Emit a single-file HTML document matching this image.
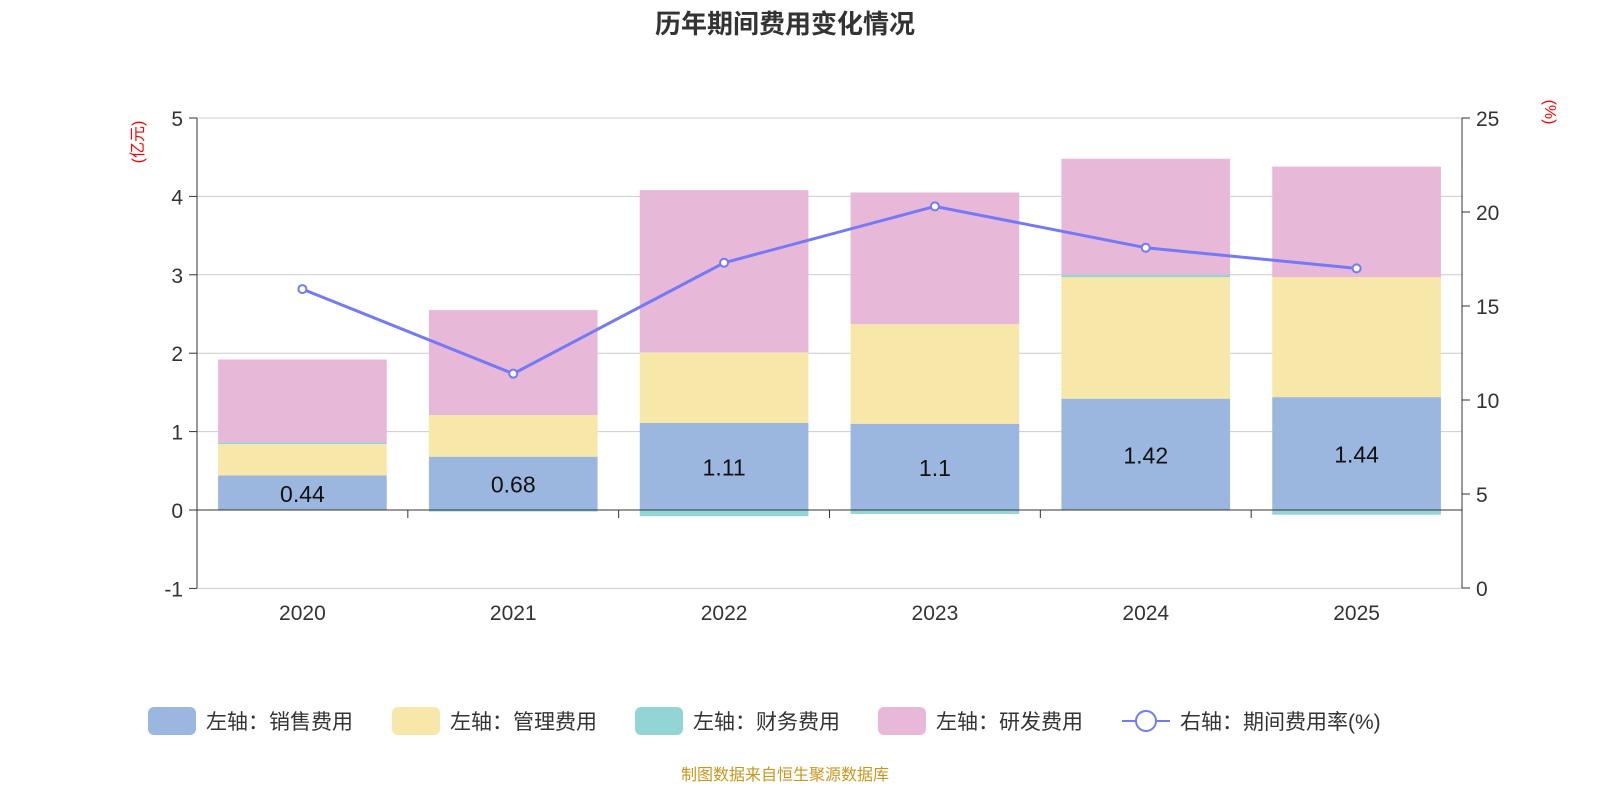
<!DOCTYPE html>
<html><head><meta charset="utf-8"><style>
body{margin:0;background:#fff;width:1600px;height:800px;overflow:hidden;font-family:"Liberation Sans","Noto Sans CJK SC",sans-serif}
</style></head><body>
<svg id="c" width="1600" height="800" xmlns="http://www.w3.org/2000/svg"></svg>
<script>
const categories=["2020","2021","2022","2023","2024","2025"];
const sales=[0.44,0.68,1.11,1.1,1.42,1.44];
const mgmt=[0.40,0.53,0.90,1.27,1.55,1.53];
const finance=[0.02,-0.02,-0.08,-0.05,0.03,-0.06];
const rnd=[1.06,1.34,2.07,1.68,1.48,1.41];
const rate=[15.9,11.4,17.3,20.3,18.1,17.0];
const leftTicks=[-1,0,1,2,3,4,5];
const rightTicks=[0,5,10,15,20,25];
const svg=document.getElementById('c');const NS="http://www.w3.org/2000/svg";
function el(t,a,txt){const e=document.createElementNS(NS,t);for(const k in a)e.setAttribute(k,a[k]);if(txt!=null)e.textContent=txt;svg.appendChild(e);return e;}
const X0=197,X1=1462,yL=v=>510-v*78.4,yR=v=>588-v*18.8;
const bw=(X1-X0)/categories.length;const xc=i=>X0+bw*(i+0.5);
let t=el('text',{x:785,y:33,'text-anchor':'middle','font-size':26,'font-weight':'bold',fill:'#333'},'历年期间费用变化情况');

leftTicks.forEach(v=>{const y=yL(v);
 if(v!==0){const g=el('line',{x1:X0,x2:X1,y1:y,y2:y,stroke:'#ccc'});}
 el('line',{x1:X0-8,x2:X0,y1:y,y2:y,stroke:'#333'});
 const l=el('text',{x:X0-14,y:y+8,'text-anchor':'end','font-size':21,fill:'#333'},v);});
rightTicks.forEach(v=>{const y=yR(v);el('line',{x1:X1,x2:X1+8,y1:y,y2:y,stroke:'#333'});
 const l=el('text',{x:X1+14,y:y+8,'font-size':21,fill:'#333'},v);});
el('line',{x1:X0,x2:X0,y1:118,y2:588,stroke:'#333'});el('line',{x1:X1,x2:X1,y1:118,y2:588,stroke:'#333'});
let a=el('text',{transform:'translate(143,142) rotate(-90)','text-anchor':'middle','font-size':16,fill:'red'},'(亿元)');
a=el('text',{transform:'translate(1545,112) rotate(90)','text-anchor':'middle','font-size':16,fill:'red'},'(%)');
const cols=['#9bb7e0','#f7e7a8','#93d4d4','#e7b8d8'];const series=[sales,mgmt,finance,rnd];const names=['sales','mgmt','finance','rnd'];
categories.forEach((c,i)=>{let pos=0,neg=0;const x=xc(i)-bw*0.4,w=bw*0.8;
 series.forEach((s,k)=>{const v=s[i];let y0,y1;if(v>=0){y0=pos;y1=pos+v;pos=y1;}else{y0=neg;y1=neg+v;neg=y1;}
  const r=el('rect',{x:x,y:Math.min(yL(y0),yL(y1)),width:w,height:Math.abs(yL(y0)-yL(y1)),fill:cols[k]});
  });
 const l=el('text',{x:xc(i),y:yL(sales[i]/2)+9,'text-anchor':'middle','font-size':23,fill:'#111'},sales[i]);
 const cl=el('text',{x:xc(i),y:620,'text-anchor':'middle','font-size':21,fill:'#333'},c);
 el('line',{x1:X0+bw*(i+1),x2:X0+bw*(i+1),y1:510,y2:518,stroke:'#333'});});
el('line',{x1:X0,x2:X1,y1:510,y2:510,stroke:'#333'});
const pl=el('polyline',{points:rate.map((v,i)=>xc(i)+','+yR(v)).join(' '),fill:'none',stroke:'#7479f5','stroke-width':3});

rate.forEach((v,i)=>{const p=el('circle',{cx:xc(i),cy:yR(v),r:4,fill:'#fff',stroke:'#7479f5','stroke-width':2});});
const leg=[['左轴：销售费用',148],['左轴：管理费用',392],['左轴：财务费用',635],['左轴：研发费用',878]];
leg.forEach((L,k)=>{const r=el('rect',{x:L[1],y:707,width:48,height:28,rx:6,fill:cols[k]});
 const tt=el('text',{x:L[1]+58,y:729,'font-size':21,fill:'#333'},L[0]);});
el('line',{x1:1122,x2:1170,y1:721,y2:721,stroke:'#7479f5','stroke-width':2});
el('circle',{cx:1146,cy:721,r:10,fill:'#fff',stroke:'#7479f5','stroke-width':2});
t=el('text',{x:1180,y:729,'font-size':21,fill:'#333'},'右轴：期间费用率(%)');
t=el('text',{x:785,y:780,'text-anchor':'middle','font-size':16,fill:'#c8961e'},'制图数据来自恒生聚源数据库');
</script></body></html>
